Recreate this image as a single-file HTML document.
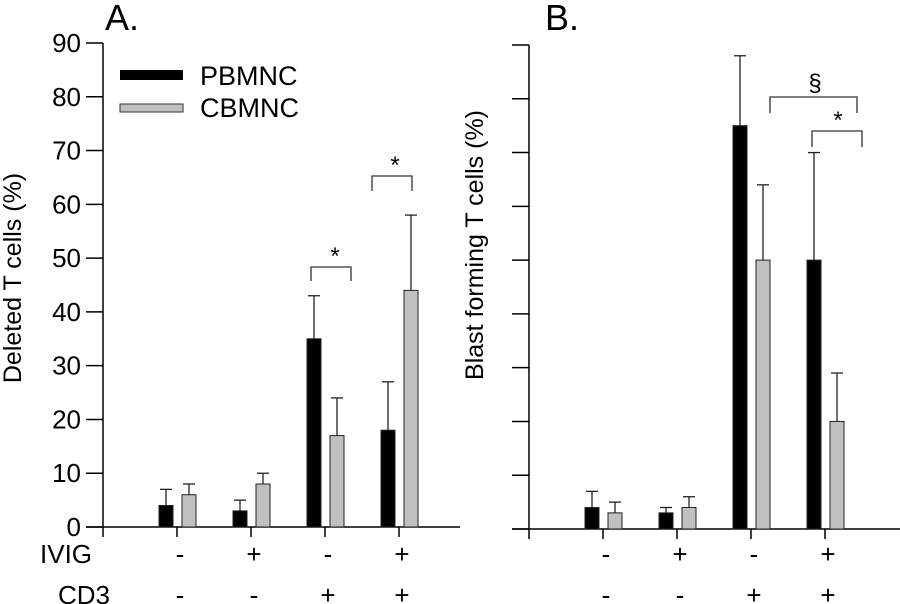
<!DOCTYPE html>
<html><head><meta charset="utf-8"><style>
html,body{margin:0;padding:0;background:#fff}
svg{display:block;font-family:"Liberation Sans",Arial,sans-serif}
</style></head><body>
<svg id="c" width="900" height="604" viewBox="0 0 900 604">
<g id="g"></g>
</svg>
<script>
const groups=["g1","g2","g3","g4"];
const ivig=["-","+","-","+"];
const cd3=["-","-","+","+"];
const aBlack=[4,3,35,18];
const aBlackErr=[7,5,43,27];
const aGrey=[6,8,17,44];
const aGreyErr=[8,10,24,58];
const bBlack=[4,3,75,50];
const bBlackErr=[7,4,88,70];
const bGrey=[3,4,50,20];
const bGreyErr=[5,6,64,29];
const yTicks=[0,10,20,30,40,50,60,70,80,90];
const NS="http://www.w3.org/2000/svg";
const root=document.getElementById('g');
function el(t,a,txt){const e=document.createElementNS(NS,t);for(const k in a)e.setAttribute(k,a[k]);if(txt!==undefined)e.textContent=txt;root.appendChild(e);return e;}
function panel(ax,y0,top,xEnd,blk,blkE,gr,grE,labels,key){
  const py=v=>y0-(y0-top)*v/90;
  const px=i=>ax+74*(i+1);
  let e=el('line',{x1:ax,y1:top,x2:ax,y2:y0,stroke:'#000','stroke-width':1.5});
  
  e=el('line',{x1:ax-17,y1:y0,x2:xEnd,y2:y0,stroke:'#000','stroke-width':1.5});
  
  yTicks.forEach(t=>{
    e=el('line',{x1:ax-17,y1:py(t),x2:ax,y2:py(t),stroke:'#000','stroke-width':1.5});
    
    if(labels){e=el('text',{x:ax-22,y:py(t)+9,'text-anchor':'end','font-size':26},String(t));
    }
  });
  for(let i=0;i<5;i++){const x=ax+74*i;e=el('line',{x1:x,y1:y0,x2:x,y2:y0+10,stroke:'#000','stroke-width':1.5});
    }
  groups.forEach((g,i)=>{
    const c=px(i);
    [[blk,blkE,c-18,'#000','black'],[gr,grE,c+5,'#c0c0c0','grey']].forEach(([v,er,x,f,n])=>{
      const ex=x+7;
      let l=el('line',{x1:ex,y1:py(er[i]),x2:ex,y2:py(v[i]),stroke:'#222','stroke-width':1.3});
      
      l=el('line',{x1:ex-6,y1:py(er[i]),x2:ex+6,y2:py(er[i]),stroke:'#222','stroke-width':1.3});
      
      const r=el('rect',{x:x,y:py(v[i]),width:14,height:y0-py(v[i]),fill:f,stroke:'#222','stroke-width':1});
      
    });
    let t=el('text',{x:c+3,y:563,'text-anchor':'middle','font-size':26},ivig[i]);
    
    t=el('text',{x:c+3,y:604,'text-anchor':'middle','font-size':26},cd3[i]);
    
  });
  return py;
}
const pa=panel(103,527,43,460,aBlack,aBlackErr,aGrey,aGreyErr,true,'panel-a');
const pb=panel(529,529,45,900,bBlack,bBlackErr,bGrey,bGreyErr,false,'panel-b');
function br(x1,x2,yt,yb,sym,sx,sy,name){
  let p=el('path',{d:`M${x1},${yb}V${yt}H${x2}V${yb}`,fill:'none',stroke:'#333','stroke-width':1.3});
  
  let t=el('text',{x:sx,y:sy,'text-anchor':'middle','font-size':24},sym);
  
}
br(311,351,267,281,'*',335,264,'a-sig-g3');
br(372,412,176,191,'*',395,173,'a-sig-g4');
br(770,857,97,113,'§',815,91,'b-sig-section');
br(812,862,131,147,'*',838,128,'b-sig-g4');
let t;
t=el('text',{x:105,y:30,'font-size':36},'A.');
t=el('text',{x:545,y:30,'font-size':36},'B.');
t=el('text',{x:0,y:0,'font-size':25,'text-anchor':'middle',transform:'translate(21,278) rotate(-90)'},'Deleted T cells (%)');

t=el('text',{x:0,y:0,'font-size':25,'text-anchor':'middle',transform:'translate(483,245) rotate(-90)'},'Blast forming T cells (%)');

t=el('text',{x:40,y:563,'font-size':26},'IVIG');
t=el('text',{x:58,y:604,'font-size':26},'CD3');
let r=el('rect',{x:120,y:70,width:63,height:10,fill:'#000'});
r=el('rect',{x:120,y:104,width:63,height:8,fill:'#c0c0c0',stroke:'#333','stroke-width':1});
t=el('text',{x:200,y:85,'font-size':27},'PBMNC');
t=el('text',{x:200,y:117,'font-size':27},'CBMNC');
</script>
</body></html>
